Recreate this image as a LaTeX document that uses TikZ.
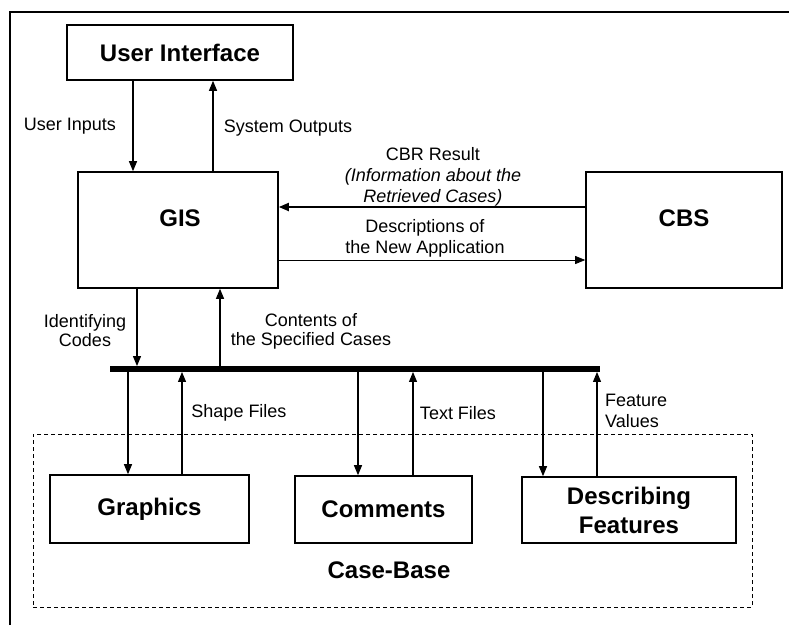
\documentclass[tikz,border=0pt]{standalone}
\usepackage{fontspec}
\setmainfont{Liberation Sans}
\usetikzlibrary{arrows.meta}
\begin{document}
\begin{tikzpicture}[x=1pt,y=-1pt,
  box/.style={draw, line width=1.6pt, inner sep=0pt,
    font=\fontsize{24}{29}\selectfont\bfseries, align=center},
  arr/.style={-{Triangle[length=10pt,width=8pt]}, line width=1.1pt},
  lbl/.style={font=\fontsize{18}{21}\selectfont, inner sep=0pt, align=center},
  title/.style={font=\fontsize{24}{29}\selectfont\bfseries, inner sep=0pt, align=center}]

\useasboundingbox (0,0) rectangle (789,625);
% page frame (top and left rules)
\draw[line width=1.3pt] (10,625) -- (10,12) -- (789,12);

% case-base container
\node[draw, dash pattern=on 4pt off 3pt, line width=0.9pt, minimum width=719pt,
      minimum height=173pt, inner sep=0pt] (casebase) at (392.5,520.5) {};
\node[title] (cblabel) at (389,570) {Case-Base};

% main components
\node[box, minimum width=226pt, minimum height=55pt] (ui) at (180,52.5) {User Interface};
\node[box, minimum width=200pt, minimum height=116pt] (gis) at (178,230) {};
\node[title] (gislabel) at (180,218) {GIS};
\node[box, minimum width=196pt, minimum height=116pt] (cbs) at (684,230) {};
\node[title] (cbslabel) at (684,218) {CBS};

% data bus
\node[fill, minimum width=490pt, minimum height=5.5pt, inner sep=0pt] (bus) at (355,369) {};

% case-base parts
\node[box, minimum width=199pt, minimum height=68pt] (gr) at (149.5,509) {Graphics};
\node[box, minimum width=177pt, minimum height=67pt] (cm) at (383.5,509.5) {Comments};
\node[box, minimum width=214pt, minimum height=66pt] (df) at (629,510) {Describing\\Features};

% user interface <-> GIS
\draw[arr] (ui.south -| 133,0) -- (gis.north -| 133,0);
\draw[arr] (gis.north -| 213,0) -- (ui.south -| 213,0);
\node[lbl] (uin) at (70,126) {User Inputs};
\node[lbl] (sout) at (288,128) {System Outputs};

% GIS <-> CBS
\draw[arr, line width=1.8pt] (cbs.west |- 0,207) -- (gis.east |- 0,207);
\draw[arr, line width=0.7pt] (gis.east |- 0,260) -- (cbs.west |- 0,260);
\node[lbl] (cbr) at (433,176.5) {CBR Result\\\textit{(Information about the}\\\textit{Retrieved Cases)}};
\node[lbl] (desc) at (425,238.5) {Descriptions of\\the New Application};

% GIS <-> bus
\draw[arr] (gis.south -| 137,0) -- (bus.north -| 137,0);
\draw[arr] (bus.north -| 220,0) -- (gis.south -| 220,0);
\node[lbl, font=\fontsize{18}{19}\selectfont] (idc) at (85,331) {Identifying\\Codes};
\node[lbl, font=\fontsize{18}{19}\selectfont] (cont) at (311,331) {Contents of\\the Specified Cases};

% bus <-> case-base parts
\draw[arr] (bus.south -| 128,0) -- (gr.north -| 128,0);
\draw[arr] (gr.north -| 182,0) -- (bus.south -| 182,0);
\draw[arr] (bus.south -| 358,0) -- (cm.north -| 358,0);
\draw[arr] (cm.north -| 413,0) -- (bus.south -| 413,0);
\draw[arr] (bus.south -| 543,0) -- (df.north -| 543,0);
\draw[arr] (df.north -| 597,0) -- (bus.south -| 597,0);
\node[lbl] (shp) at (239,413) {Shape Files};
\node[lbl] (txt) at (458,413) {Text Files};
\node[lbl, align=left, anchor=west] (fv) at (605,411) {Feature\\Values};

\end{tikzpicture}
\end{document}
